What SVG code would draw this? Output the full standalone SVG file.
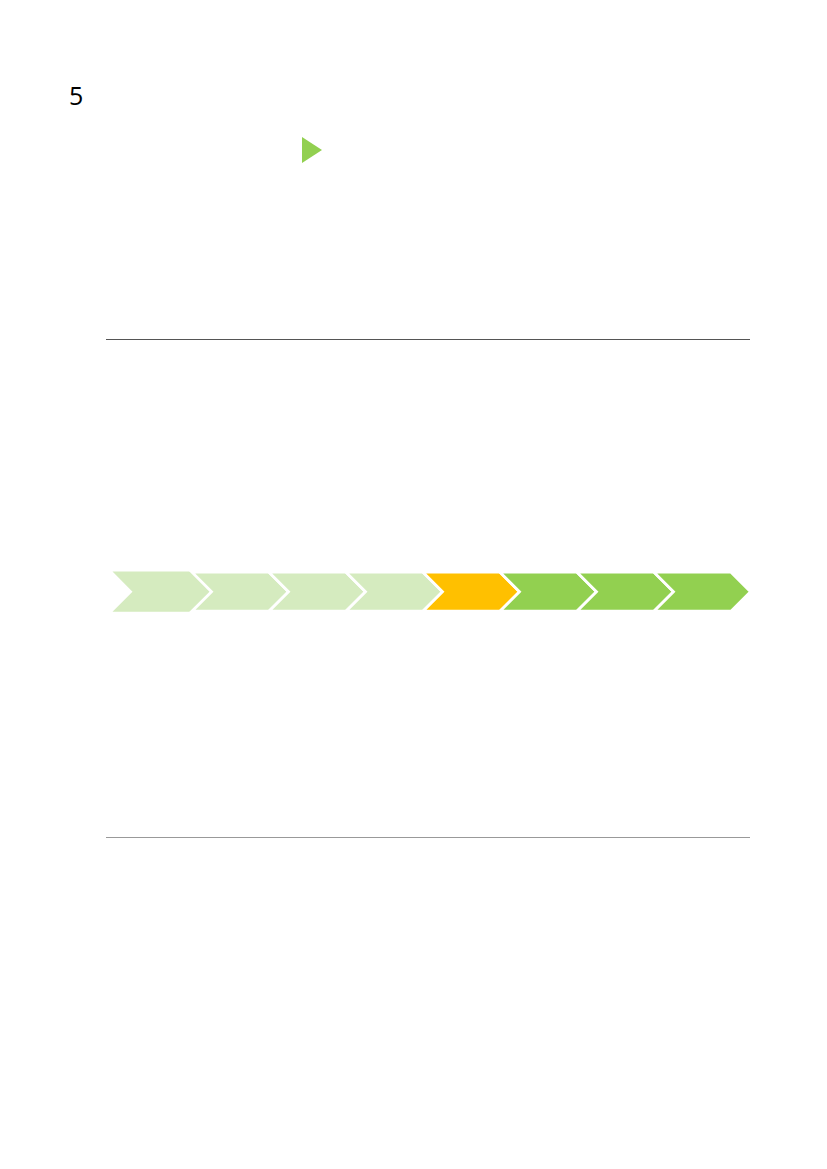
<svg xmlns="http://www.w3.org/2000/svg" width="827" height="1169" viewBox="0 0 827 1169">
<style>
.lt{fill:#D5EBBF;stroke:#FFFFFF;stroke-width:2.8;stroke-linejoin:miter}
.or{fill:#FFC000;stroke:#FFFFFF;stroke-width:2.8;stroke-linejoin:miter}
.gr{fill:#92D050;stroke:#FFFFFF;stroke-width:2.8;stroke-linejoin:miter}
.t{font-family:"Open Sans","Liberation Sans",sans-serif;fill:#000000}
</style>
<defs>
<polygon id="chev" points="0,0 77,0 96.5,19.5 77,39 0,39 19.5,19.5"/>
</defs>
<rect width="827" height="1169" fill="#FFFFFF"/>
<text class="t" x="69" y="105" font-size="25">5</text>
<polygon id="marker-triangle" points="302,137 322,150 302,163" fill="#92D050"/>
<g id="rules">
<line x1="106" y1="339.5" x2="750" y2="339.5" stroke="#555555" stroke-width="1"/>
<line x1="106" y1="837.5" x2="750" y2="837.5" stroke="#999999" stroke-width="1.2"/>
</g>
<g id="chevrons">
<g id="c1"><polygon points="112.5,571.5 192,571.5 211,591.7 192,611.8 112.5,611.8 132.5,591.7" fill="#D5EBBF"/></g>
<g id="c2"><use href="#chev" class="lt" x="192" y="572.2"/></g>
<g id="c3"><use href="#chev" class="lt" x="269" y="572.2"/></g>
<g id="c4"><use href="#chev" class="lt" x="346" y="572.2"/></g>
<g id="c5"><use href="#chev" class="or" x="423" y="572.2"/></g>
<g id="c6"><use href="#chev" class="gr" x="500" y="572.2"/></g>
<g id="c7"><use href="#chev" class="gr" x="577" y="572.2"/></g>
<g id="c8"><use href="#chev" class="gr" x="654" y="572.2"/></g>
</g>
</svg>
